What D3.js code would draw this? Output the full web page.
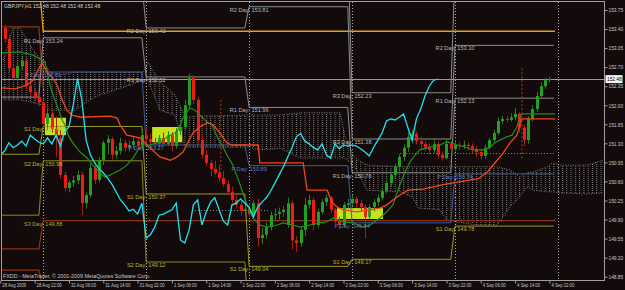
<!DOCTYPE html>
<html><head><meta charset="utf-8">
<script src="https://cdn.jsdelivr.net/npm/d3@7"></script>
<style>
html,body{margin:0;padding:0;background:#130b0b;}
svg{display:block;}
text{font-family:"Liberation Sans",Arial,sans-serif;}
</style></head><body>
<svg id="c" width="625" height="290"></svg>
<script>
// ---------------- DATA ----------------
const symbolTitle = "GBPJPY,H1  152.48 152.48 152.48 152.48";
const copyrightText = "FXDD - MetaTrader, \u00a9 2001-2009 MetaQuotes Software Corp.";
const lastPrice = 152.48;

const xTickBars = [0,8,16,24,32,40,48,56,64,72,80,88,96,104,112,120,128];
const xTickLabels = ["28 Aug 2009","28 Aug 22:00","31 Aug 06:00","31 Aug 14:00","31 Aug 22:00","1 Sep 06:00","1 Sep 14:00","1 Sep 22:00","2 Sep 06:00","2 Sep 14:00","2 Sep 22:00","3 Sep 06:00","3 Sep 14:00","3 Sep 22:00","4 Sep 06:00","4 Sep 14:00","4 Sep 22:00"];
const yTickValues = [153.75,153.40,153.05,152.70,152.35,152.00,151.65,151.30,150.95,150.60,150.25,149.90,149.55,149.20,148.85];

// H1 candles, bar 0 = 28 Aug 14:00
const barOpen = [153.20,153.42,153.22,152.68,152.50,152.72,152.82,152.36,152.24,152.15,
152.05,151.66,151.85,151.57,151.40,150.72,150.48,150.58,150.62,150.72,
150.20,150.35,150.85,150.63,150.99,151.31,151.38,151.09,151.16,151.31,
151.22,151.27,151.34,151.25,151.45,151.38,151.32,151.29,151.40,151.29,
151.45,151.25,151.52,151.60,152.00,152.50,152.10,151.36,151.09,150.94,
150.83,150.76,150.66,150.55,150.41,150.26,150.17,150.06,150.09,150.00,
150.20,149.56,149.62,149.76,149.98,150.00,150.04,149.80,150.20,149.52,
149.47,149.71,150.17,150.26,149.80,150.04,150.22,150.30,150.08,149.87,
149.80,150.17,150.20,150.28,150.20,150.13,149.95,150.13,150.22,150.30,
150.42,150.57,150.72,150.87,151.05,151.22,151.42,151.48,151.34,151.29,
151.22,151.18,151.29,151.09,151.03,151.29,151.20,151.27,151.25,151.27,
151.25,151.20,151.14,151.07,151.22,151.36,151.49,151.71,151.75,151.73,
151.78,151.84,151.59,151.36,151.75,151.93,152.17,152.35,152.46];
const barHigh = [153.50,153.48,153.30,152.75,152.80,152.90,152.85,152.45,152.30,152.20,
152.12,151.95,151.92,151.80,151.55,150.78,150.62,150.70,150.80,150.78,
150.40,150.92,150.95,151.05,151.35,151.45,151.42,151.25,151.40,151.36,
151.35,151.42,151.40,151.55,151.60,151.48,151.40,151.45,151.50,151.52,
151.50,151.58,151.70,152.10,152.58,152.56,152.15,151.45,151.18,151.00,
150.98,150.90,150.80,150.62,150.50,150.35,150.25,150.18,150.20,150.25,
150.28,149.75,149.85,150.05,150.10,150.12,150.15,150.30,150.25,149.60,
149.78,150.30,150.35,150.30,150.10,150.28,150.36,150.34,150.12,149.95,
150.22,150.28,150.35,150.32,150.26,150.18,150.18,150.28,150.36,150.48,
150.62,150.78,150.92,151.10,151.28,151.50,151.55,151.52,151.42,151.35,
151.30,151.38,151.34,151.15,151.38,151.35,151.36,151.32,151.35,151.32,
151.30,151.25,151.20,151.28,151.40,151.55,151.78,151.80,151.80,151.85,
151.95,151.88,151.65,151.80,152.00,152.25,152.42,152.50,152.52];
const barLow = [153.15,153.15,152.60,152.45,152.45,152.65,152.30,152.18,152.10,151.98,
151.60,151.55,151.50,151.05,150.65,150.42,150.40,150.50,150.55,149.98,
150.10,150.30,150.55,150.58,150.90,151.10,151.00,151.02,151.10,151.15,
151.15,151.20,151.18,151.20,151.30,151.22,151.20,151.22,151.25,151.25,
151.15,151.20,151.45,151.55,151.95,152.02,151.30,151.02,150.88,150.70,
150.72,150.60,150.50,150.35,150.20,150.10,149.98,149.95,149.95,149.92,
149.40,149.45,149.55,149.70,149.88,149.90,149.95,149.75,149.35,149.30,
149.40,149.60,150.10,149.70,149.75,150.00,150.15,150.02,149.82,149.72,
149.76,150.10,150.15,150.12,150.05,149.55,149.90,150.05,150.15,150.25,
150.38,150.50,150.65,150.80,150.98,151.15,151.30,151.28,151.20,151.15,
151.10,151.12,151.02,150.98,151.00,151.15,151.15,151.18,151.20,151.18,
151.12,151.05,151.00,151.02,151.18,151.30,151.45,151.65,151.68,151.70,
151.72,151.50,151.25,151.30,151.70,151.88,152.12,152.30,152.42];
const barClose = [153.42,153.22,152.68,152.50,152.72,152.82,152.36,152.24,152.15,152.05,
151.66,151.85,151.57,151.40,150.72,150.48,150.58,150.62,150.72,150.20,
150.35,150.85,150.63,150.99,151.31,151.38,151.09,151.16,151.31,151.22,
151.27,151.34,151.25,151.45,151.38,151.32,151.29,151.40,151.29,151.45,
151.25,151.52,151.60,152.00,152.50,152.10,151.36,151.09,150.94,150.83,
150.76,150.66,150.55,150.41,150.26,150.17,150.06,150.09,150.00,150.20,
149.56,149.62,149.76,149.98,150.00,150.04,150.08,150.20,149.52,149.47,
149.71,150.17,150.26,149.80,150.04,150.22,150.30,150.08,149.87,149.80,
150.17,150.20,150.28,150.20,150.13,149.95,150.13,150.22,150.30,150.42,
150.57,150.72,150.87,151.05,151.22,151.42,151.48,151.34,151.29,151.22,
151.18,151.29,151.09,151.03,151.29,151.20,151.27,151.25,151.27,151.25,
151.20,151.14,151.07,151.22,151.36,151.49,151.71,151.75,151.73,151.78,
151.84,151.59,151.36,151.75,151.93,152.17,152.35,152.46,152.48];
const chikouShift = 26;

// Ichimoku-style lines [bar, price]
const redLine = [[0.4,152.32],[3.4,152.30],[6.2,152.37],[7.6,152.46],[9.7,152.78],[10.9,152.61],[12.3,152.50],[13.4,152.34],[14.4,152.10],[15.5,151.91],[16.7,151.82],[18.6,151.78],[25.6,151.80],[27.2,151.77],[27.9,151.64],[29.5,151.45],[32.6,151.40],[34.2,151.27],[37.2,151.05],[39.6,150.99],[41.2,151.05],[42.6,151.14],[43.8,151.33],[44.9,151.49],[46.5,151.60],[48.2,151.68],[49.6,151.64],[51.2,151.49],[52.8,151.31],[54.0,151.27],[60.1,151.27],[60.5,150.94],[70.6,150.94],[71.5,150.44],[76.2,150.44],[77.3,150.22],[78.5,150.13],[79.9,150.08],[83.1,150.04],[86.2,150.08],[88.5,150.11],[90.1,150.17],[91.5,150.26],[93.2,150.35],[95.0,150.44],[98.5,150.46],[100.9,150.50],[103.2,150.54],[111.4,150.65],[113.5,150.77],[115.8,150.99],[117.2,151.12],[118.8,151.31],[120.4,151.45],[121.1,151.64],[121.6,151.75],[129.3,151.75]];
const greenLine = [[0,152.96],[4.6,152.98],[7.6,152.92],[9.7,152.83],[10.4,152.80],[11.6,152.37],[12.3,152.19],[13.2,152.00],[14.4,151.73],[15.1,151.64],[15.8,151.45],[16.9,151.31],[18.6,151.14],[20.2,151.03],[21.6,150.90],[23.2,150.76],[24.4,150.68],[25.6,150.72],[26.7,150.76],[27.9,150.81],[29.5,150.90],[30.9,151.03],[32.1,151.18],[33.3,151.27],[34.9,151.27],[37.2,151.33],[39.6,151.45],[41.2,151.51],[42.6,151.77],[44.2,151.95],[45.4,151.91],[46.5,151.82],[48.2,151.69],[49.3,151.64],[50.7,151.40],[51.9,151.23],[53.1,151.05],[54.2,150.90],[55.9,150.54],[57.5,150.17],[58.9,149.93],[60.5,149.80],[62.2,149.76],[64.5,149.80],[65.9,149.84],[68.2,149.80],[69.9,149.76],[72.2,149.80],[74.5,149.84],[76.2,149.86],[77.6,149.93],[79.9,149.86],[82.2,149.84],[84.5,149.76],[86.2,149.80],[88.5,149.93],[90.1,150.04],[91.5,150.17],[93.2,150.55],[94.3,150.77],[95.5,150.96],[96.7,151.09],[97.8,151.18],[100.2,151.23],[102.5,151.27],[104.1,151.33],[106.5,151.27],[108.8,151.22],[110.2,151.18],[112.5,151.18],[114.2,151.23],[115.3,151.31],[116.5,151.36],[118.1,151.42],[119.3,151.45],[120.4,151.60],[121.1,151.78],[121.6,151.84],[129.3,151.84]];
const cloudBar = [0.7,3.0,4.6,7.6,10.0,11.6,13.9,17.4,20.9,23.2,26.7,30.2,33.3,34.4,37.2,40.7,43.1,46.6,58.2,60.5,65.2,69.9,79.2,80.4,82.7,85.5,93.2,96.2,97.4,102.5,104.1,111.1,115.8,118.8,121.1,122.8,124.2,127.4,128.8,130.5,136.8,140.5];
const cloudUpper = [152.83,153.42,153.42,153.02,152.79,152.61,152.56,152.61,152.61,152.61,152.61,152.61,152.61,152.79,152.43,152.19,151.78,151.80,151.82,151.82,151.82,151.86,151.86,151.42,151.03,150.90,150.87,150.87,150.87,150.87,150.87,150.87,150.87,150.81,150.68,150.76,150.77,150.87,150.94,150.90,150.90,150.99];
const cloudLower = [152.10,152.10,152.10,152.05,152.00,151.91,151.91,151.91,152.10,152.19,152.28,152.37,152.46,152.46,151.91,151.82,151.23,151.23,151.23,151.18,151.21,151.03,151.03,151.03,150.85,150.44,150.41,150.31,150.11,150.08,149.89,149.80,149.80,150.13,150.32,150.50,150.44,150.41,150.41,150.39,150.37,150.39];

// Daily pivots (days: 28 Aug, 31 Aug, 1 Sep, 2 Sep, 3 Sep, 4 Sep)
const dayFirstBar = [0,10,34,58,82,106];
const dayLastBar = [9,33,57,81,105,129];
const separatorBars = [10,34,58,82,106,130];
const levelR3 = [null,null,null,154.88,152.23,154.49];
const levelR2 = [null,154.24,153.42,153.81,151.38,153.10];
const levelR1 = [152.15,153.24,152.52,151.96,150.76,152.13];
const levelP  = [null,152.61,151.27,150.89,149.84,150.74];
const levelS1 = [151.10,151.61,150.37,149.04,149.17,149.78];
const levelS2 = [149.98,150.98,149.12,147.97,148.25,148.38];
const levelS3 = [null,149.88,null,null,null,null];
const labelDaysR3 = [4], labelDaysR2 = [2,3,4,5], labelDaysR1 = [1,2,3,4,5], labelDaysP = [1,2,3,4,5], labelDaysS1 = [1,2,3,4,5], labelDaysS2 = [1,2], labelDaysS3 = [1];

const orangeLine = [[9,154.3],[10,153.36],[129.3,153.36]];
const brownLine = [[0,149.36],[9,149.36],[10,149.88],[129.3,149.88]];
const brownTop28 = [[0,153.44],[9,153.44],[10,152.32]];
const brownLow28 = [[0,148.97],[9,148.97],[10,148.6]];
const dottedLevels = [[45.4,62.4,150.08],[93.2,129.3,151.12]];
const dashedVerticals = [[51.4,152.10,150.72],[121.6,152.68,150.99]];

const boxStart = [10.4,35.4,78.5], boxEnd = [15.3,42.4,89.2], boxTop = [151.77,151.60,150.11], boxBottom = [151.45,151.32,149.91];

// ---------------- DRAW ----------------
const W = 625, H = 290;
const svg = d3.select('#c');
const x = d3.scaleLinear().domain([0,140]).range([0.3,600.9]);
const y = d3.scaleLinear().domain([148.85,153.75]).range([276.7,10]);
const FL = 1.5, FT = 1.5, FR = 604.5, FB = 280.5;

svg.append('rect').attr('width',W).attr('height',H).attr('fill','#130b0b');
const defs = svg.append('defs');
defs.append('clipPath').attr('id','clip').append('rect').attr('x',2).attr('y',2).attr('width',602).attr('height',278);
const pat = defs.append('pattern').attr('id','dots').attr('patternUnits','userSpaceOnUse').attr('width',4.29).attr('height',2);
pat.append('rect').attr('x',0).attr('y',0).attr('width',1).attr('height',1).attr('fill','#7c7c7c');

const g = svg.append('g').attr('clip-path','url(#clip)');
const line = d3.line().x(d=>x(d[0])).y(d=>y(d[1]));

// cloud
const cloudData = cloudBar.map((b,k)=>[b,cloudUpper[k],cloudLower[k]]);
g.append('path').datum(cloudData)
  .attr('d', d3.area().x(d=>x(d[0])).y0(d=>y(d[2])).y1(d=>y(d[1])))
  .attr('fill','url(#dots)');
g.append('path').datum(cloudData.map(d=>[d[0],d[1]])).attr('d',line)
  .attr('fill','none').attr('stroke','#8a8a8a').attr('stroke-width',0.9).attr('stroke-dasharray','1,1.5');
g.append('path').datum(cloudData.map(d=>[d[0],d[2]])).attr('d',line)
  .attr('fill','none').attr('stroke','#8a8a8a').attr('stroke-width',0.9).attr('stroke-dasharray','1,1.5');

// boxes
boxStart.forEach((b,k)=>{
  g.append('rect').attr('x',x(b)).attr('y',y(boxTop[k]))
    .attr('width',x(boxEnd[k])-x(b)).attr('height',y(boxBottom[k])-y(boxTop[k]))
    .attr('fill','#c6e21e');
});

// separators
separatorBars.forEach(b=>{
  g.append('line').attr('x1',Math.round(x(b))+0.5).attr('x2',Math.round(x(b))+0.5).attr('y1',2).attr('y2',280)
   .attr('stroke','#a8a8a8').attr('stroke-width',1).attr('stroke-dasharray','1,2');
});

// dotted levels
dottedLevels.forEach(d=>{
  g.append('line').attr('x1',x(d[0])).attr('x2',x(d[1])).attr('y1',Math.round(y(d[2]))+0.5).attr('y2',Math.round(y(d[2]))+0.5)
   .attr('stroke','#8a8a8a').attr('stroke-dasharray','1,2');
});

// bid line
g.append('line').attr('x1',2).attr('x2',604).attr('y1',Math.round(y(lastPrice))+0.5).attr('y2',Math.round(y(lastPrice))+0.5)
 .attr('stroke','#9a9a9a').attr('stroke-width',1);

// other level lines
g.append('path').datum(orangeLine).attr('d',line).attr('fill','none').attr('stroke','#e0a018').attr('stroke-width',1.3);
g.append('path').datum(brownLine).attr('d',line).attr('fill','none').attr('stroke','#8c3418').attr('stroke-width',1.2);
g.append('path').datum(brownTop28).attr('d',line).attr('fill','none').attr('stroke','#8c3418').attr('stroke-width',1.2);
g.append('path').datum(brownLow28).attr('d',line).attr('fill','none').attr('stroke','#8c3418').attr('stroke-width',1.2);

// pivot levels
function levelPoints(vals){
  const pts=[];
  vals.forEach((v,d)=>{
    if(v==null){pts.push(null);return;}
    pts.push([dayFirstBar[d],v]); pts.push([dayLastBar[d],v]);
  });
  return pts;
}
const pline = d3.line().defined(d=>d!==null).x(d=>x(d[0])).y(d=>y(d[1]));
const levels = [
  {vals:levelR3,name:'R3',color:'#8e8e8e',label:'#b8b8b8',days:labelDaysR3},
  {vals:levelR2,name:'R2',color:'#8e8e8e',label:'#b8b8b8',days:labelDaysR2},
  {vals:levelR1,name:'R1',color:'#8e8e8e',label:'#b8b8b8',days:labelDaysR1},
  {vals:levelP,name:'P',color:'#3c5c9e',label:'#5a7ccc',days:labelDaysP},
  {vals:levelS1,name:'S1',color:'#9a9a22',label:'#b4b432',days:labelDaysS1},
  {vals:levelS2,name:'S2',color:'#8a8a20',label:'#b4b432',days:labelDaysS2},
  {vals:levelS3,name:'S3',color:'#8c3418',label:'#a8a830',days:labelDaysS3}
];
levels.forEach(L=>{
  if(L.name!=='S3')
  g.append('path').datum(levelPoints(L.vals)).attr('d',pline)
   .attr('fill','none').attr('stroke',L.color).attr('stroke-width',1);
});

// dashed verticals
dashedVerticals.forEach(d=>{
  g.append('line').attr('x1',x(d[0])).attr('x2',x(d[0])).attr('y1',y(d[1])).attr('y2',y(d[2]))
   .attr('stroke','#a8401c').attr('stroke-width',1).attr('stroke-dasharray','2,2');
});

// candles
const bars = barClose.map((c,i)=>({i,o:barOpen[i],h:barHigh[i],l:barLow[i],c}));
const cg = g.append('g');
bars.forEach(b=>{
  const up = b.c>=b.o;
  const cx = Math.round(x(b.i))+0.5;
  cg.append('line').attr('x1',cx).attr('x2',cx).attr('y1',y(b.h)).attr('y2',y(b.l))
    .attr('stroke', up ? '#2a7a22' : '#a02018').attr('stroke-width',1);
  const top = y(Math.max(b.o,b.c)), bot = y(Math.min(b.o,b.c));
  cg.append('rect').attr('x',cx-1.5).attr('y',top).attr('width',3).attr('height',Math.max(1,bot-top))
    .attr('fill', up ? '#22a020' : '#f01c14');
});

// indicator lines
g.append('path').datum(greenLine).attr('d',line).attr('fill','none').attr('stroke','#1f8f1f').attr('stroke-width',1.2);
g.append('path').datum(redLine).attr('d',line).attr('fill','none').attr('stroke','#f0461a').attr('stroke-width',1.3);
const chikou = barClose.slice(chikouShift).map((c,k)=>[k,c]);
g.append('path').datum(chikou).attr('d',line).attr('fill','none').attr('stroke','#20e2ee').attr('stroke-width',1.3);

// pivot labels
const lg = g.append('g');
levels.forEach(L=>{
  L.days.forEach(d=>{
    const v = L.vals[d];
    lg.append('text').attr('x',x(dayFirstBar[d])).attr('y',y(v)+5)
      .attr('text-anchor','middle').attr('font-size','5.6px').attr('fill',L.label)
      .text(`${L.name === 'P' ? 'P' : L.name} Day: ${v.toFixed(2)}`);
  });
});

function squeeze(sel,f){
  sel.each(function(){
    const len=this.getComputedTextLength();
    if(len>0){ d3.select(this).attr('textLength',len*f).attr('lengthAdjust','spacingAndGlyphs'); }
  });
}

// title & copyright
const t1 = svg.append('text').attr('x',4).attr('y',8).attr('font-size','5.6px').attr('fill','#d0d0d0').text(symbolTitle);
squeeze(t1,0.92);
const t2 = svg.append('text').attr('x',3).attr('y',278).attr('font-size','5.6px').attr('fill','#c8c8c8').text(copyrightText);
squeeze(t2,0.95);

// frame
svg.append('rect').attr('x',FL).attr('y',FT).attr('width',FR-FL).attr('height',FB-FT)
  .attr('fill','none').attr('stroke','#a0a0a0').attr('stroke-width',1);

// y axis
const yAxis = d3.axisRight(y).tickValues(yTickValues).tickFormat(d3.format('.2f')).tickSize(3).tickPadding(1);
const ya = svg.append('g').attr('transform',`translate(${FR},0)`).call(yAxis);
ya.select('.domain').remove();
ya.selectAll('line').attr('stroke','#a0a0a0');
ya.selectAll('text').attr('fill','#c8c8c8').attr('font-size','5.6px').attr('font-family','Liberation Sans, Arial, sans-serif');
squeeze(ya.selectAll('text'),0.86);

// price box
const py = y(lastPrice);
svg.append('rect').attr('x',605.5).attr('y',py-4).attr('width',17).attr('height',8).attr('fill','#f4f4f4');
const pt = svg.append('text').attr('x',607).attr('y',py+2).attr('font-size','5.6px').attr('fill','#000').text(lastPrice.toFixed(2));
squeeze(pt,0.86);

// x axis
const xAxis = d3.axisBottom(x).tickValues(xTickBars).tickFormat((d,k)=>xTickLabels[k]).tickSize(3).tickPadding(0);
const xa = svg.append('g').attr('transform',`translate(0,${FB})`).call(xAxis);
xa.select('.domain').remove();
xa.selectAll('line').attr('stroke','#a0a0a0');
xa.selectAll('text').attr('fill','#c8c8c8').attr('font-size','5.6px').attr('text-anchor','start').attr('x',1.5)
  .attr('font-family','Liberation Sans, Arial, sans-serif');
squeeze(xa.selectAll('text'),0.76);
</script>
</body></html>
